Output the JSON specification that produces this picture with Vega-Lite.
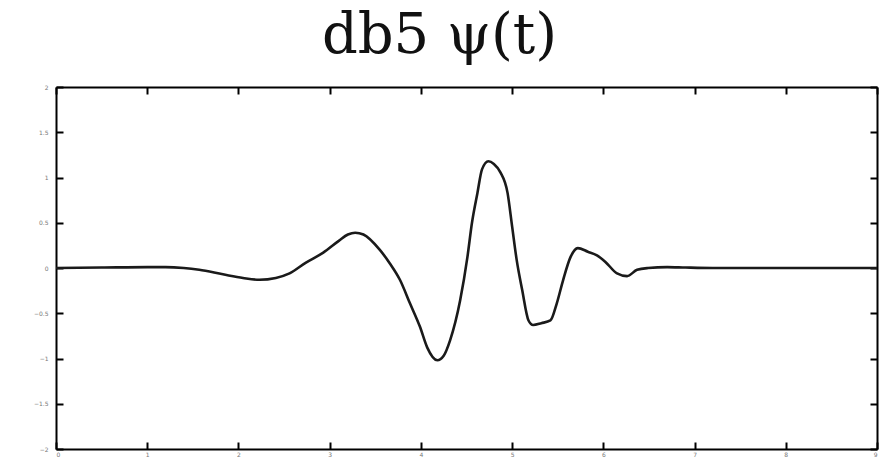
{
  "$schema": "https://vega.github.io/schema/vega-lite/v6.json",
  "autosize": "none",
  "width": 821,
  "height": 362,
  "padding": {"left": 56, "top": 87, "right": 2, "bottom": 11},
  "background": "white",
  "title": {
    "text": "db5  ψ(t)",
    "font": "DejaVu Serif",
    "fontSize": 56,
    "fontWeight": "normal",
    "color": "#111111",
    "anchor": "middle",
    "dx": -27,
    "offset": 19
  },
  "config": {
    "view": {"stroke": null},
    "axis": {
      "grid": false,
      "domainColor": "black",
      "domainWidth": 2,
      "tickColor": "black",
      "tickWidth": 2,
      "tickSize": -7,
      "labelFont": "DejaVu Sans",
      "labelFontSize": 6,
      "labelColor": "#777777",
      "title": null
    }
  },
  "data": {
    "values": [
      {"t": 0, "psi": 0},
      {"t": 0.5, "psi": 0.005},
      {"t": 1.0, "psi": 0.01},
      {"t": 1.2, "psi": 0.01},
      {"t": 1.4, "psi": 0.0},
      {"t": 1.57, "psi": -0.02},
      {"t": 1.83, "psi": -0.07},
      {"t": 2.05, "psi": -0.11},
      {"t": 2.23, "psi": -0.13},
      {"t": 2.41, "psi": -0.11},
      {"t": 2.56, "psi": -0.06},
      {"t": 2.74, "psi": 0.06},
      {"t": 2.93, "psi": 0.17},
      {"t": 3.1, "psi": 0.3},
      {"t": 3.2, "psi": 0.37},
      {"t": 3.28, "psi": 0.39},
      {"t": 3.37, "psi": 0.37},
      {"t": 3.55, "psi": 0.2},
      {"t": 3.66, "psi": 0.05},
      {"t": 3.77, "psi": -0.13},
      {"t": 3.88, "psi": -0.39},
      {"t": 3.99, "psi": -0.65},
      {"t": 4.07, "psi": -0.88},
      {"t": 4.18, "psi": -1.02},
      {"t": 4.25, "psi": -0.97},
      {"t": 4.32, "psi": -0.8},
      {"t": 4.43, "psi": -0.36},
      {"t": 4.51, "psi": 0.12},
      {"t": 4.56, "psi": 0.5},
      {"t": 4.62, "psi": 0.83},
      {"t": 4.67, "psi": 1.09},
      {"t": 4.74, "psi": 1.18},
      {"t": 4.8, "psi": 1.15},
      {"t": 4.87, "psi": 1.06},
      {"t": 4.95, "psi": 0.83},
      {"t": 5.0, "psi": 0.46},
      {"t": 5.05, "psi": 0.09},
      {"t": 5.11, "psi": -0.24},
      {"t": 5.18, "psi": -0.58},
      {"t": 5.23, "psi": -0.63},
      {"t": 5.32, "psi": -0.61},
      {"t": 5.42, "psi": -0.58},
      {"t": 5.49, "psi": -0.39},
      {"t": 5.56, "psi": -0.13},
      {"t": 5.64, "psi": 0.12},
      {"t": 5.72, "psi": 0.22},
      {"t": 5.83, "psi": 0.18},
      {"t": 5.93, "psi": 0.14},
      {"t": 6.02, "psi": 0.07},
      {"t": 6.15, "psi": -0.06},
      {"t": 6.26, "psi": -0.09},
      {"t": 6.37, "psi": -0.02},
      {"t": 6.49, "psi": 0.0},
      {"t": 6.7, "psi": 0.01},
      {"t": 6.9, "psi": 0.005},
      {"t": 7.2, "psi": 0.0},
      {"t": 9, "psi": 0}
    ]
  },
  "layer": [
    {
      "mark": {"type": "line", "color": "#1a1a1a", "strokeWidth": 2.6, "interpolate": "monotone"},
      "encoding": {
        "x": {
          "field": "t", "type": "quantitative",
          "scale": {"domain": [0, 9], "nice": false, "zero": false},
          "axis": {"orient": "bottom", "values": [0,1,2,3,4,5,6,7,8,9], "labelPadding": 9}
        },
        "y": {
          "field": "psi", "type": "quantitative",
          "scale": {"domain": [-2, 2], "nice": false},
          "axis": {"orient": "left", "values": [-2,-1.5,-1,-0.5,0,0.5,1,1.5,2], "format": "~g", "labelPadding": 15}
        }
      }
    },
    {
      "mark": {"type": "line", "strokeOpacity": 0},
      "encoding": {
        "x": {
          "field": "t", "type": "quantitative",
          "scale": {"domain": [0, 9], "nice": false, "zero": false},
          "axis": {"orient": "top", "values": [0,1,2,3,4,5,6,7,8,9], "labels": false}
        },
        "y": {
          "field": "psi", "type": "quantitative",
          "scale": {"domain": [-2, 2], "nice": false},
          "axis": {"orient": "right", "values": [-2,-1.5,-1,-0.5,0,0.5,1,1.5,2], "labels": false}
        }
      }
    }
  ],
  "resolve": {"axis": {"x": "independent", "y": "independent"}}
}
